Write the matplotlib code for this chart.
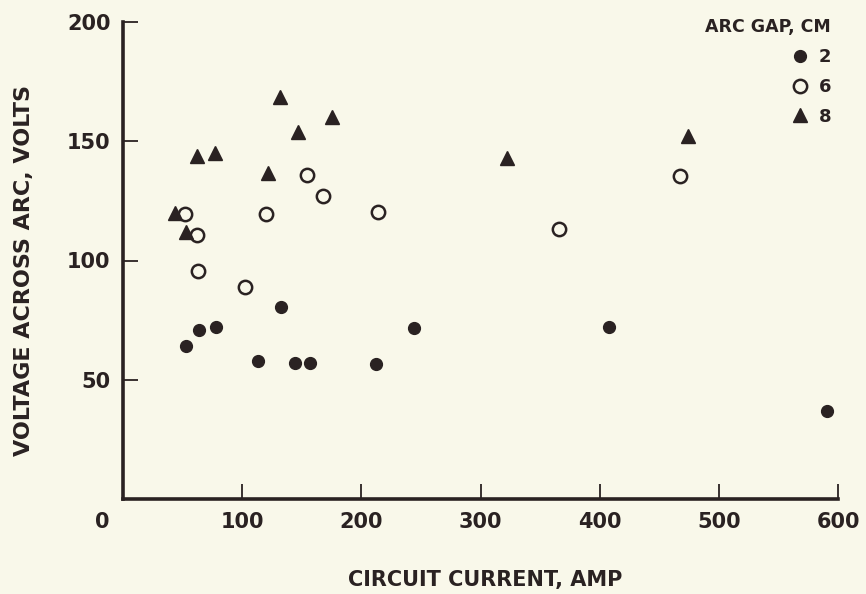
import matplotlib
matplotlib.use("Agg")
import matplotlib.pyplot as plt
import matplotlib.transforms as mtransforms
from matplotlib.lines import Line2D

# Data
gap2_current = [53, 64, 78, 113, 133, 144, 157, 212, 244, 408, 591]
gap2_voltage = [64, 71, 72, 58, 80.5, 57, 57, 56.5, 71.5, 72, 37]

gap6_current = [52, 62, 63, 102, 120, 154, 168, 214, 366, 467]
gap6_voltage = [119.5, 110.5, 95.5, 89, 119.5, 136, 127, 120.5, 113, 135.5]

gap8_current = [44, 53, 62, 77, 122, 132, 147, 175, 322, 474]
gap8_voltage = [120, 112, 144, 145, 136.5, 168.5, 154, 160, 143, 152]

x_ticks = [0, 100, 200, 300, 400, 500, 600]
y_ticks = [50, 100, 150, 200]
legend_labels = ["2", "6", "8"]
legend_title = "ARC GAP, CM"
x_label = "CIRCUIT CURRENT, AMP"
y_label = "VOLTAGE ACROSS ARC, VOLTS"

INK = "#2a2222"
BG = "#f9f8ea"

plt.rcParams["font.family"] = ["DejaVu Sans"]
plt.rcParams["font.weight"] = "bold"

fig = plt.figure(figsize=(8.66, 5.94), dpi=100, facecolor=BG)
ax = fig.add_axes([123 / 866, 1 - 499 / 594, (838 - 123) / 866, (499 - 22) / 594])
ax.set_facecolor(BG)

ax.plot(gap2_current, gap2_voltage, linestyle="none", marker="o", ms=8.5,
        mfc=INK, mec=INK, clip_on=False)
ax.plot(gap6_current, gap6_voltage, linestyle="none", marker="o", ms=9.6,
        mfc="none", mec=INK, mew=1.8, clip_on=False)
ax.plot(gap8_current, gap8_voltage, linestyle="none", marker="^", ms=10.5,
        mfc=INK, mec=INK, clip_on=False)

ax.set_xlim(0, 600)
ax.set_ylim(0, 200)

for s in ["top", "right"]:
    ax.spines[s].set_visible(False)
for s in ["left", "bottom"]:
    ax.spines[s].set_linewidth(2.6)
    ax.spines[s].set_color(INK)
    ax.spines[s].set_capstyle("projecting")

ax.set_xticks(x_ticks)
ax.set_xticklabels([str(v) for v in x_ticks])
ax.set_yticks(y_ticks)
ax.set_yticklabels([str(v) for v in y_ticks])
ax.tick_params(axis="both", direction="in", length=11, width=1.3, color=INK,
               labelcolor=INK, labelsize=15, pad=9)

# shift the "0" label to the left as in the reference
xt = ax.get_xticklabels()
xt[0].set_transform(xt[0].get_transform() +
                    mtransforms.ScaledTranslation(-21 / 100, 0, fig.dpi_scale_trans))
ax.xaxis.get_major_ticks()[0].tick1line.set_visible(False)
for lbl in ax.get_xticklabels() + ax.get_yticklabels():
    lbl.set_fontweight("bold")

fig.text(485 / 866, 1 - 580 / 594, x_label, ha="center", va="center",
         fontsize=15, fontweight="bold", color=INK)
fig.text(24 / 866, 1 - 271 / 594, y_label, ha="center", va="center",
         rotation=90, fontsize=16, fontweight="bold", color=INK)

handles = [
    Line2D([], [], linestyle="none", marker="o", ms=8.5, mfc=INK, mec=INK),
    Line2D([], [], linestyle="none", marker="o", ms=9.6, mfc="none", mec=INK, mew=1.8),
    Line2D([], [], linestyle="none", marker="^", ms=10.5, mfc=INK, mec=INK),
]
leg = ax.legend(handles, legend_labels, title=legend_title, loc="upper right",
                bbox_to_anchor=(831 / 866, 1 - 18 / 594), bbox_transform=fig.transFigure,
                frameon=False, fontsize=13, title_fontsize=12.5, handlelength=1.0,
                handletextpad=0.5, labelspacing=0.66, borderpad=0, borderaxespad=0,
                alignment="right")
for t in leg.get_texts():
    t.set_color(INK)
    t.set_fontweight("bold")
leg.get_title().set_color(INK)
leg.get_title().set_fontweight("bold")

fig.savefig("out.png", dpi=100, facecolor=BG)
